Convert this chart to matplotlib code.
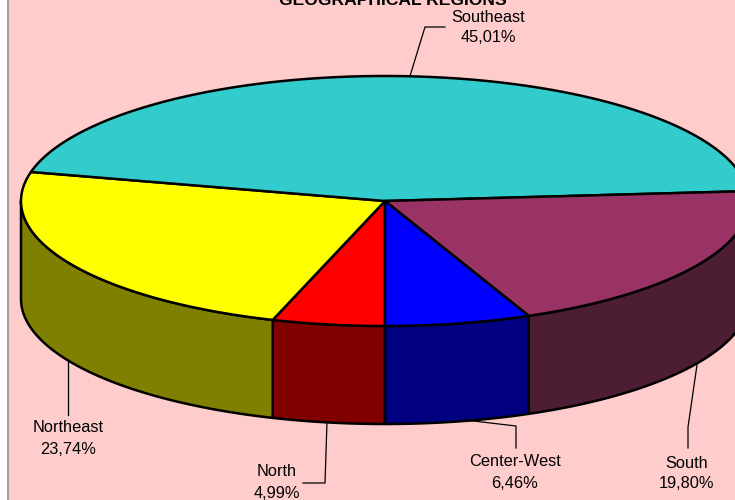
import matplotlib.pyplot as plt
import numpy as np

plt.rcParams['font.family'] = ['Liberation Sans', 'DejaVu Sans']

regions = ["North", "Northeast", "Southeast", "South", "Center-West"]
shares = [4.99, 23.74, 45.01, 19.80, 6.46]
top_colors = ["#FF0000", "#FFFF00", "#33CCCC", "#993366", "#0000FF"]
side_colors = ["#800000", "#808000", "#008080", "#4C1D33", "#000080"]

# pie geometry in pixels
cx, cy = 385, 201
rx, ry = 364, 125
depth = 98

# text centre x, y of first line, then the leader line
label_x = [277, 68, 488, 687, 515]
label_y = [472, 428, 17, 463, 462]
leaders = [
    [(327, 422), (325, 483), (303, 483)],
    [(68, 362), (68, 415)],
    [(410, 76), (425, 27), (445, 27)],
    [(697, 365), (688, 427), (688, 448)],
    [(465, 420), (516, 426), (516, 448)],
]


def rim(a0, a1, dy=0, n=200):
    t = np.radians(np.linspace(a0, a1, n))
    return cx + rx * np.cos(t), cy - ry * np.sin(t) + dy


fig = plt.figure(figsize=(7.35, 5), dpi=100)
ax = fig.add_axes([0, 0, 1, 1])
ax.set_xlim(0, 735)
ax.set_ylim(500, 0)
ax.axis("off")
ax.add_patch(plt.Rectangle((9, 0), 726, 500, fc="#FFCCCC", ec="none"))
ax.plot([8.5, 8.5], [0, 500], color="#A0A0A0", lw=1.5)

total = sum(shares)
ends = -90 - np.cumsum(shares) * 360 / total
starts = np.concatenate(([-90], ends[:-1]))

# side walls, only the part of each slice facing the viewer (angles -180..0)
for a0, a1, col in zip(starts, ends, side_colors):
    for shift in (0, -360, 360):
        lo = max(a1 + shift, -180)
        hi = min(a0 + shift, 0)
        if hi <= lo:
            continue
        x1, y1 = rim(hi, lo)
        x2, y2 = rim(lo, hi, depth)
        ax.fill(np.r_[x1, x2], np.r_[y1, y2], fc=col, ec="black", lw=1.8, joinstyle="round")

# top slices
for a0, a1, col in zip(starts, ends, top_colors):
    x, y = rim(a1, a0)
    ax.fill(np.r_[cx, x], np.r_[cy, y], fc=col, ec="black", lw=1.8, joinstyle="round")

for name, share, lx, ly, pts in zip(regions, shares, label_x, label_y, leaders):
    ax.plot(*zip(*pts), color="black", lw=0.9)
    ax.text(lx, ly, name, ha="center", va="center", fontsize=11.8)
    ax.text(lx, ly + 21, f"{share:.2f}%".replace(".", ","), ha="center", va="center", fontsize=11.8)

ax.text(393, 5, "GEOGRAPHICAL REGIONS", ha="center", va="baseline", fontsize=12.6, fontweight="bold")

fig.savefig("out.png", dpi=100)
plt.close(fig)
